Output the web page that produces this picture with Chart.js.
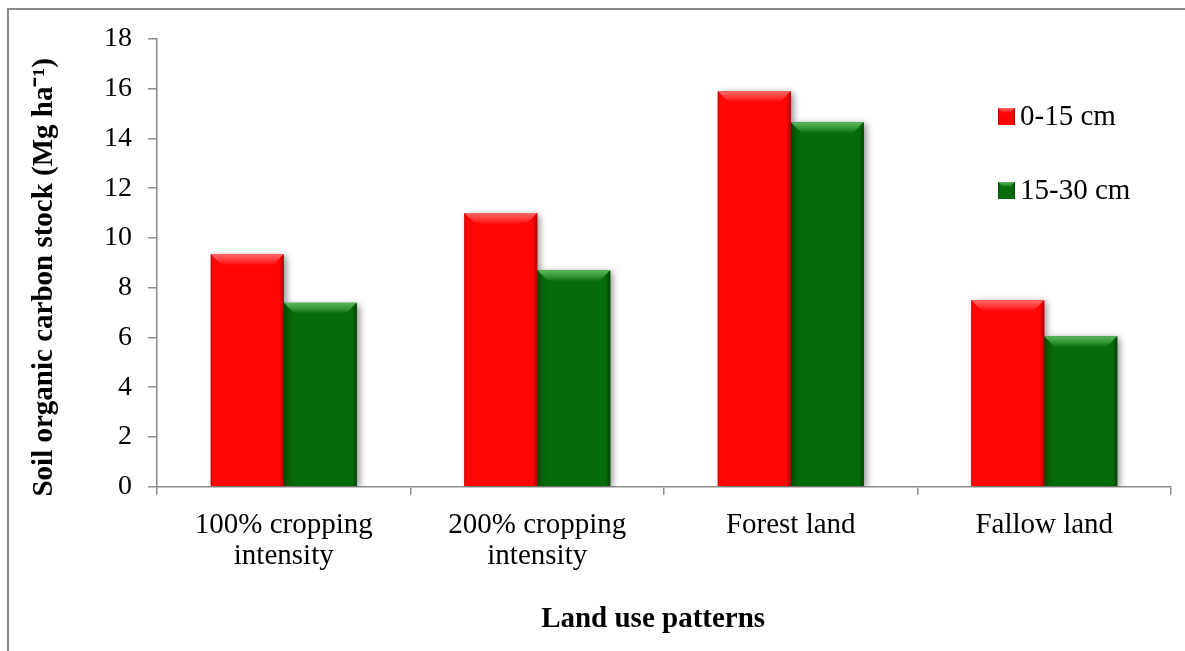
<!DOCTYPE html>
<html>
<head>
<meta charset="utf-8">
<script src="https://cdn.jsdelivr.net/npm/chart.js@4.4.1/dist/chart.umd.min.js"></script>
<style>
  html, body { margin: 0; padding: 0; background: #fff; }
  #wrap { width: 1185px; height: 651px; position: relative; }
</style>
</head>
<body>
<div id="wrap"><canvas id="grafico"></canvas></div>
<script>
// data
const categorias = [['100% cropping', 'intensity'], ['200% cropping', 'intensity'], 'Forest land', 'Fallow land'];
const rotulos = ['0-15 cm', '15-30 cm'];
const prof0a15 = [9.35, 11.0, 15.9, 7.5];
const prof15a30 = [7.4, 8.7, 14.65, 6.05];
const yMin = 0, yMax = 18, yPasso = 2;

const fonte = "'Liberation Serif', 'Times New Roman', serif";
const cores = {
    vermelho: { base: '#FF0505', claro: '#FF6A6A', meio: '#FF3434', escuro: '#B00000' },
    verde: { base: '#066B0A', claro: '#5DB85E', meio: '#2E932F', escuro: '#024204' }
};
const paleta = [cores.vermelho, cores.verde];

// moldura cinza em volta do grafico
const moldura = {
    id: 'moldura',
    beforeDraw(chart) {
        const ctx = chart.ctx;
        ctx.save();
        ctx.fillStyle = '#fff';
        ctx.fillRect(0, 0, chart.width, chart.height);
        ctx.strokeStyle = '#8a8a8a';
        ctx.lineWidth = 2;
        ctx.strokeRect(8, 9, chart.width + 20, chart.height + 20);
        ctx.restore();
    }
};

// desenha o efeito de bisel sobre um retangulo
function bisel(ctx, x0, x1, topo, base, c, b) {
    const g = ctx.createLinearGradient(0, topo, 0, topo + b);
    g.addColorStop(0, c.claro);
    g.addColorStop(0.6, c.meio);
    g.addColorStop(1, c.base);
    ctx.fillStyle = g;
    ctx.beginPath();
    ctx.moveTo(x0, topo);
    ctx.lineTo(x1, topo);
    ctx.lineTo(x1 - b, topo + b);
    ctx.lineTo(x0 + b, topo + b);
    ctx.closePath();
    ctx.fill();
    // lado direito mais escuro
    const gd = ctx.createLinearGradient(x1 - b * 0.4, 0, x1, 0);
    gd.addColorStop(0, c.base);
    gd.addColorStop(1, c.escuro);
    ctx.fillStyle = gd;
    ctx.beginPath();
    ctx.moveTo(x1, topo);
    ctx.lineTo(x1, base);
    ctx.lineTo(x1 - b * 0.4, base);
    ctx.lineTo(x1 - b * 0.4, topo + b * 0.4);
    ctx.closePath();
    ctx.fill();
    // linha fina a esquerda
    ctx.fillStyle = c.escuro;
    ctx.globalAlpha = 0.6;
    ctx.fillRect(x0, topo, 1.2, base - topo);
    ctx.globalAlpha = 1;
}

const efeitoBarras = {
    id: 'efeitoBarras',
    beforeDatasetsDraw(chart) {
        const ctx = chart.ctx;
        ctx.save();
        ctx.shadowColor = 'rgba(0,0,0,0.45)';
        ctx.shadowBlur = 7;
        ctx.shadowOffsetX = 3;
        ctx.shadowOffsetY = 2;
    },
    afterDatasetsDraw(chart) {
        const ctx = chart.ctx;
        ctx.restore();
        ctx.save();
        chart.data.datasets.forEach((ds, i) => {
            const meta = chart.getDatasetMeta(i);
            meta.data.forEach(el => {
                const p = el.getProps(['x', 'y', 'base', 'width'], true);
                bisel(ctx, p.x - p.width / 2, p.x + p.width / 2, p.y, p.base, paleta[i], 11);
            });
        });
        ctx.restore();
    }
};

// legenda dentro da area do grafico, a direita
const legenda = {
    id: 'legenda',
    afterDraw(chart) {
        const ctx = chart.ctx;
        const area = chart.chartArea;
        ctx.save();
        chart.data.datasets.forEach((ds, i) => {
            const x = area.right - 173;
            const y = area.top + 77 + i * 74;
            ctx.fillStyle = paleta[i].base;
            ctx.fillRect(x, y - 8, 17, 17);
            bisel(ctx, x, x + 17, y - 8, y + 9, paleta[i], 5);
            ctx.fillStyle = '#000';
            ctx.font = '29px ' + fonte;
            ctx.textBaseline = 'middle';
            ctx.textAlign = 'left';
            ctx.fillText(ds.label, x + 22, y + 1);
        });
        ctx.restore();
    }
};

const contexto = document.getElementById('grafico').getContext('2d');
new Chart(contexto, {
    type: 'bar',
    data: {
        labels: categorias,
        datasets: [
            { label: rotulos[0], data: prof0a15, backgroundColor: cores.vermelho.base },
            { label: rotulos[1], data: prof15a30, backgroundColor: cores.verde.base }
        ]
    },
    options: {
        responsive: true,
        maintainAspectRatio: false,
        animation: false,
        datasets: { bar: { categoryPercentage: 0.576, barPercentage: 1.0, borderWidth: 0 } },
        layout: { padding: { left: 8, top: 39, right: 14, bottom: 0 } },
        plugins: {
            legend: { display: false },
            tooltip: { enabled: false }
        },
        scales: {
            x: {
                grid: { offset: true, drawOnChartArea: false, drawTicks: true, tickLength: 8, color: '#8c8c8c', lineWidth: 1.5 },
                border: { color: '#8c8c8c', width: 1.5 },
                ticks: {
                    color: '#000', padding: 15, maxRotation: 0, autoSkip: false,
                    font: { family: fonte, size: 29, lineHeight: 1.07 }
                },
                title: {
                    display: true, text: 'Land use patterns   ', color: '#000',
                    font: { family: fonte, size: 29, weight: 'bold', lineHeight: 1.2 },
                    padding: { top: 0, bottom: 14 }
                },
                afterFit(scale) { scale.height = 164.3; }
            },
            y: {
                min: yMin, max: yMax,
                grid: { drawOnChartArea: false, drawTicks: true, tickLength: 9, color: '#8c8c8c', lineWidth: 1.5 },
                border: { color: '#8c8c8c', width: 1.5 },
                ticks: {
                    stepSize: yPasso, color: '#000', padding: 16,
                    font: { family: fonte, size: 28 }
                },
                title: {
                    display: true, text: 'Soil organic carbon stock (Mg ha\u207B\u00B9)    ', color: '#000',
                    font: { family: fonte, size: 29, weight: 'bold', lineHeight: 1.2 },
                    padding: { top: 19, bottom: 0 }
                },
                afterFit(scale) { scale.width = 149; }
            }
        }
    },
    plugins: [moldura, efeitoBarras, legenda]
});
</script>
</body>
</html>
